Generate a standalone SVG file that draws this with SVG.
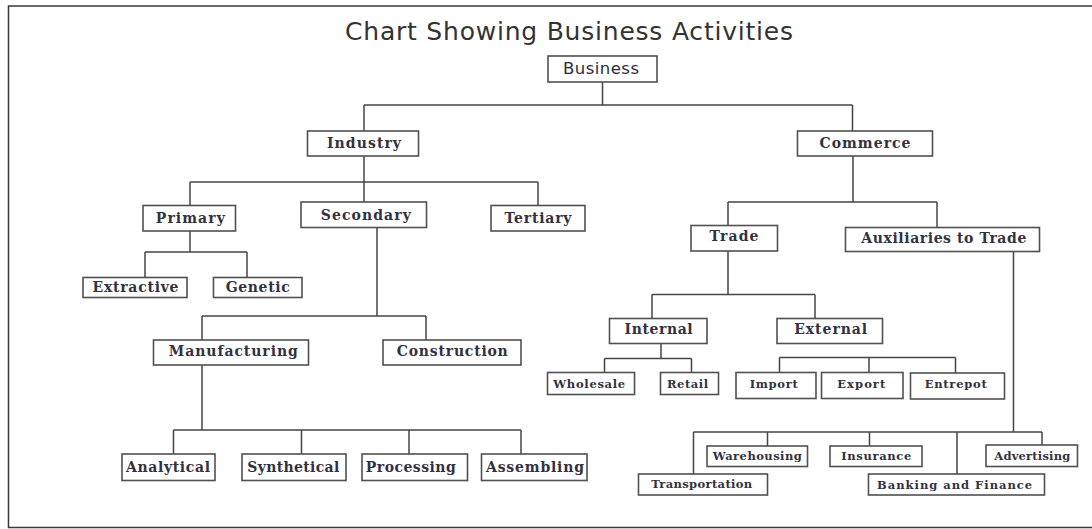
<svg xmlns="http://www.w3.org/2000/svg" width="1092" height="529" viewBox="0 0 1092 529">
<style>
.frame{fill:#fff;stroke:#3a3a3a;stroke-width:1.5}
.box{fill:#fff;stroke:#505050;stroke-width:1.6}
.conn{fill:none;stroke:#454545;stroke-width:1.5}
.t{font-family:"DejaVu Serif","Liberation Serif",serif;font-size:14px;fill:#33313f;text-anchor:middle;font-weight:bold}
.s{font-family:"DejaVu Serif","Liberation Serif",serif;font-size:11.5px;fill:#33313f;text-anchor:middle;font-weight:bold}
.sans{font-family:"DejaVu Sans","Liberation Sans",sans-serif;font-size:16.5px;fill:#2e2c3a;text-anchor:middle}
.title{font-family:"DejaVu Sans","Liberation Sans",sans-serif;font-size:25px;fill:#333;text-anchor:middle}
</style>
<rect class="frame" x="8.5" y="6" width="1090" height="521.5"/>
<text class="title" x="569" y="39.5" textLength="448">Chart Showing Business Activities</text>
<g id="connectors">
<path class="conn" d="M602.5,82V105M364,105H852.5M364,105V131M852.5,105V131"/>
<path class="conn" d="M364,156V182M190,182H538M190,182V205.5M364,182V202M538,182V205.5"/>
<path class="conn" d="M190,231V252M145,252H247M145,252V277.5M247,252V277.5"/>
<path class="conn" d="M377,227.5V316M202,316H426M202,316V340M426,316V340"/>
<path class="conn" d="M202,365V430M173.5,430H521M173.5,430V454M301.5,430V454M409,430V454M521,430V454"/>
<path class="conn" d="M853,156V202M728,202H937M728,202V225.5M937,202V227.5"/>
<path class="conn" d="M728,251V294.5M652,294.5H815M652,294.5V318.5M815,294.5V318.5"/>
<path class="conn" d="M661,343.5V358.5M604.5,358.5H691.5M604.5,358.5V372.5M691.5,358.5V372.5"/>
<path class="conn" d="M779.5,357.5H955.5M779.5,357.5V372.5M869,357.5V372.5M955.5,357.5V373"/>
<path class="conn" d="M1013.5,251.5V432M693.5,432H1042M693.5,432V474M767.5,432V446M869.5,432V446M957,432V474M1042,432V445"/>
</g>
<g id="business"><rect class="box" x="548" y="56" width="109" height="26"/><text class="sans" x="601" y="74" textLength="76">Business</text></g>
<g id="industry"><rect class="box" x="307.5" y="131" width="111" height="25"/><text class="t" x="364" y="148" textLength="74">Industry</text></g>
<g id="commerce"><rect class="box" x="797.5" y="131" width="135" height="25"/><text class="t" x="865" y="148" textLength="91">Commerce</text></g>
<g id="primary"><rect class="box" x="143" y="205.5" width="92.5" height="25.5"/><text class="t" x="190.3" y="223" textLength="69">Primary</text></g>
<g id="secondary"><rect class="box" x="301" y="202" width="125.5" height="25.5"/><text class="t" x="365.8" y="220" textLength="90">Secondary</text></g>
<g id="tertiary"><rect class="box" x="491" y="205.5" width="94" height="25.5"/><text class="t" x="538" y="223" textLength="67">Tertiary</text></g>
<g id="trade"><rect class="box" x="691" y="225.5" width="86.5" height="25.5"/><text class="t" x="734" y="241" textLength="49">Trade</text></g>
<g id="auxiliaries"><rect class="box" x="845.5" y="227.5" width="194" height="24"/><text class="t" x="943.8" y="242.5" textLength="165">Auxiliaries to Trade</text></g>
<g id="extractive"><rect class="box" x="83" y="277.5" width="104" height="20"/><text class="t" x="135.5" y="292" textLength="86">Extractive</text></g>
<g id="genetic"><rect class="box" x="213.5" y="277.5" width="88.5" height="20"/><text class="t" x="257.7" y="292" textLength="64">Genetic</text></g>
<g id="manufacturing"><rect class="box" x="153.5" y="340" width="155" height="25"/><text class="t" x="233.3" y="356" textLength="129">Manufacturing</text></g>
<g id="construction"><rect class="box" x="383" y="340" width="138" height="25"/><text class="t" x="452.3" y="356" textLength="111">Construction</text></g>
<g id="analytical"><rect class="box" x="122" y="454" width="93" height="26.5"/><text class="t" x="168" y="471.5" textLength="84">Analytical</text></g>
<g id="synthetical"><rect class="box" x="242" y="454" width="104" height="26.5"/><text class="t" x="293.3" y="471.5" textLength="92">Synthetical</text></g>
<g id="processing"><rect class="box" x="362" y="454" width="105.5" height="26.5"/><text class="t" x="410.8" y="471.5" textLength="90">Processing</text></g>
<g id="assembling"><rect class="box" x="481.5" y="454" width="105.5" height="26.5"/><text class="t" x="535" y="471.5" textLength="98">Assembling</text></g>
<g id="internal"><rect class="box" x="609.5" y="318.5" width="97.5" height="25"/><text class="t" x="658.6" y="333.5" textLength="68">Internal</text></g>
<g id="external"><rect class="box" x="777" y="318.5" width="105.5" height="25"/><text class="t" x="830.7" y="333.5" textLength="73">External</text></g>
<g id="wholesale"><rect class="box" x="547.5" y="372.5" width="87" height="22"/><text class="s" x="589.2" y="387.5" textLength="72">Wholesale</text></g>
<g id="retail"><rect class="box" x="660.5" y="372.5" width="58" height="22"/><text class="s" x="687.5" y="387.5" textLength="41">Retail</text></g>
<g id="import"><rect class="box" x="736" y="372.5" width="80" height="26"/><text class="s" x="773.7" y="388" textLength="48">Import</text></g>
<g id="export"><rect class="box" x="821.5" y="372.5" width="81.5" height="26"/><text class="s" x="861.3" y="388" textLength="48">Export</text></g>
<g id="entrepot"><rect class="box" x="910.5" y="373" width="94" height="26"/><text class="s" x="955.7" y="388" textLength="62">Entrepot</text></g>
<g id="warehousing"><rect class="box" x="707" y="446" width="100.5" height="20.5"/><text class="s" x="757.3" y="460" textLength="89">Warehousing</text></g>
<g id="insurance"><rect class="box" x="830" y="446" width="92" height="20.5"/><text class="s" x="876.3" y="460" textLength="70">Insurance</text></g>
<g id="advertising"><rect class="box" x="986" y="445" width="91.5" height="21.5"/><text class="s" x="1032.3" y="460" textLength="76">Advertising</text></g>
<g id="transportation"><rect class="box" x="638.5" y="474" width="129" height="21"/><text class="s" x="701.7" y="488" textLength="101">Transportation</text></g>
<g id="banking"><rect class="box" x="868.5" y="474" width="176" height="21"/><text class="s" x="954.6" y="488.5" textLength="155">Banking and Finance</text></g>
</svg>
